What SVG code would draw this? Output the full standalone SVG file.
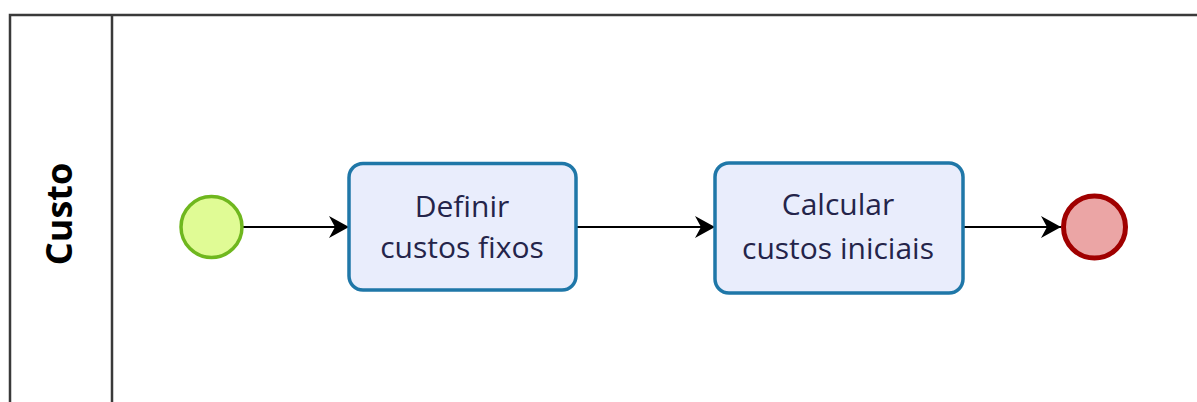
<svg xmlns="http://www.w3.org/2000/svg" width="1197" height="402" viewBox="0 0 1197 402">
  <style>
    .lane { fill: none; stroke: #3a3a3a; stroke-width: 2.5; }
    .lane-label { font-family: "Open Sans", "Noto Sans", sans-serif; font-weight: bold; font-size: 36px; fill: #000; }
    .task { fill: #e9edfc; stroke: #1f77a8; stroke-width: 3.5; }
    .task-text { font-family: "Open Sans", "Noto Sans", sans-serif; font-size: 30px; fill: #24244a; text-anchor: middle; }
    .flow { fill: none; stroke: #000; stroke-width: 2; marker-end: url(#arrow); }
  </style>
  <defs>
    <marker id="arrow" viewBox="0 0 22 24" refX="21" refY="12" markerWidth="22" markerHeight="24" markerUnits="userSpaceOnUse" orient="auto">
      <path d="M1,1 L21,12 L1,23 L7,12 Z" fill="#000"/>
    </marker>
  </defs>
  <rect width="1197" height="402" fill="#fff"/>

  <!-- pool / lane frame -->
  <g id="lane-custo">
    <path class="lane" d="M1200,15 H10 V405"/>
    <line class="lane" x1="112" y1="15" x2="112" y2="405"/>
    <text class="lane-label" transform="translate(72,214) rotate(-90)" text-anchor="middle">Custo</text>
  </g>

  <!-- sequence flows -->
  <g id="connectors">
    <line class="flow" x1="243" y1="227" x2="349" y2="227"/>
    <line class="flow" x1="576" y1="227" x2="715" y2="227"/>
    <line class="flow" x1="963" y1="227" x2="1061" y2="227"/>
  </g>

  <g id="start-event">
    <circle cx="211.5" cy="227" r="30.5" fill="#e0fb95" stroke="#6fb71e" stroke-width="3.5"/>
  </g>

  <g id="task-definir">
    <rect class="task" x="349" y="163.5" width="227" height="126.5" rx="14"/>
    <text class="task-text" x="462" y="217">Definir</text>
    <text class="task-text" x="462" y="258">custos fixos</text>
  </g>

  <g id="task-calcular">
    <rect class="task" x="715" y="163" width="248" height="130" rx="14"/>
    <text class="task-text" x="838" y="215">Calcular</text>
    <text class="task-text" x="838" y="259">custos iniciais</text>
  </g>

  <g id="end-event">
    <circle cx="1094.5" cy="227" r="31" fill="#eba5a5" stroke="#a00000" stroke-width="5"/>
  </g>
</svg>
